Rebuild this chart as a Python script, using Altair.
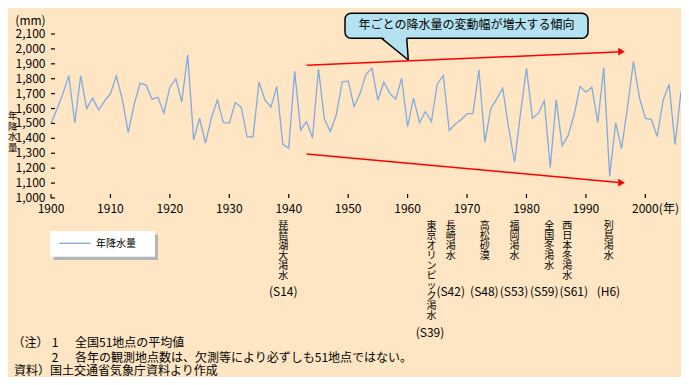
import altair as alt
import pandas as pd

# ---------------- data ----------------
years = list(range(1900, 2007))
rain = [
    1500, 1595, 1700, 1820, 1505, 1820, 1600, 1670, 1590, 1650,  # 1900-1909
    1700, 1820, 1660, 1440, 1630, 1770, 1757, 1663, 1676, 1570,  # 1910-1919
    1743, 1800, 1645, 1960, 1390, 1535, 1368, 1540, 1658, 1506,  # 1920-1929
    1502, 1640, 1609, 1410, 1410, 1778, 1658, 1609, 1748, 1360,  # 1930-1939
    1335, 1850, 1457, 1513, 1402, 1865, 1530, 1446, 1558, 1778,  # 1940-1949
    1785, 1614, 1700, 1830, 1870, 1656, 1778, 1702, 1662, 1803,  # 1950-1959
    1478, 1670, 1505, 1580, 1513, 1765, 1822, 1452, 1495, 1525,  # 1960-1969
    1565, 1568, 1860, 1375, 1600, 1665, 1736, 1470, 1240, 1570,  # 1970-1979
    1870, 1535, 1569, 1652, 1204, 1658, 1350, 1418, 1555, 1748,  # 1980-1989
    1710, 1743, 1505, 1875, 1145, 1505, 1332, 1610, 1915, 1675,  # 1990-1999
    1535, 1526, 1413, 1658, 1762, 1357, 1718,                    # 2000-2006
]
x_ticks = list(range(1900, 2001, 10))
y_ticks = list(range(1000, 2101, 100))

trend_years = [1943, 1996]
upper_trend = [1890, 1981]
lower_trend = [1295, 1103]

event_years = [1939, 1964, 1967, 1973, 1978, 1984, 1986, 1994]
event_names = ["琵琶湖大渇水", "東京オリンピック渇水", "長崎渇水", "高松砂漠",
               "福岡渇水", "全国冬渇水", "西日本冬渇水", "列島渇水"]
event_eras = ["(S14)", "(S39)", "(S42)", "(S48)", "(S53)", "(S59)", "(S61)", "(H6)"]

series_name = "年降水量"
callout_text = "年ごとの降水量の変動幅が増大する傾向"
notes = [
    ("（注）", "1", "全国51地点の平均値"),
    ("", "2", "各年の観測地点数は、欠測等により必ずしも51地点ではない。"),
]
source_text = "資料）国土交通省気象庁資料より作成"

# ---------------- style ----------------
FONT = "Noto Sans CJK JP"
BG = "#FEE6C4"
LINE_COLOR = "#82AADD"
BOX_FILL = "#B4E2F0"
W, H = 630, 164

xs = alt.Scale(domain=[1900, 2006], nice=False, zero=False)
ys = alt.Scale(domain=[1000, 2100], nice=False, zero=False)

one = pd.DataFrame({"a": [0]})

df = pd.DataFrame({"year": years, "rain": rain})

axis_style = dict(title=None, grid=False, ticks=False, labels=False,
                  domainColor="black", domainWidth=1.5)

main = alt.Chart(df).mark_line(color=LINE_COLOR, strokeWidth=1.3).encode(
    x=alt.X("year:Q", scale=xs, axis=alt.Axis(**axis_style)),
    y=alt.Y("rain:Q", scale=ys, axis=alt.Axis(**axis_style)),
)

xt_df = pd.DataFrame({"year": x_ticks})
yt_df = pd.DataFrame({"v": y_ticks})

xtick = alt.Chart(xt_df).mark_rule(color="black", strokeWidth=1.2).encode(
    x=alt.X("year:Q", scale=xs, axis=None), y=alt.value(H), y2=alt.value(H - 4))
ytick = alt.Chart(yt_df).mark_rule(color="black", strokeWidth=1.2).encode(
    y=alt.Y("v:Q", scale=ys, axis=None), x=alt.value(0), x2=alt.value(4))
xlab = alt.Chart(xt_df).mark_text(font=FONT, fontSize=12, color="black",
                                  align="center", baseline="middle").encode(
    x=alt.X("year:Q", scale=xs, axis=None), y=alt.value(H + 11),
    text=alt.Text("year:Q", format="d"))
ylab = alt.Chart(yt_df).mark_text(font=FONT, fontSize=12, color="black",
                                  align="right", baseline="middle").encode(
    y=alt.Y("v:Q", scale=ys, axis=None), x=alt.value(-5.5),
    text=alt.Text("v:Q", format=",d"))

# trend arrows
tr = pd.DataFrame({"year": trend_years * 2,
                   "val": upper_trend + lower_trend,
                   "which": ["upper"] * 2 + ["lower"] * 2})
trend_lines = alt.Chart(tr).mark_line(color="#FF0000", strokeWidth=1.5).encode(
    x=alt.X("year:Q", scale=xs, axis=None), y=alt.Y("val:Q", scale=ys, axis=None),
    detail="which:N")
heads = alt.Chart(tr[tr["year"] == trend_years[-1]]).mark_point(
    shape="triangle-right", filled=True, color="#FF0000", size=60, opacity=1, dx=2).encode(
    x=alt.X("year:Q", scale=xs, axis=None), y=alt.Y("val:Q", scale=ys, axis=None))

# callout
box = alt.Chart(one).mark_rect(fill=BOX_FILL, stroke="black", strokeWidth=1.5, cornerRadius=6).encode(
    x=alt.value(294), x2=alt.value(537), y=alt.value(-20.7), y2=alt.value(4.3))
tail_fill = alt.Chart(one).mark_point(
    shape="M -1 -0.95 L 0.88 -0.95 L 1 0.83 Z", filled=True, fill=BOX_FILL,
    strokeWidth=0, size=708, opacity=1).encode(x=alt.value(344), y=alt.value(15))
tail_l = alt.Chart(one).mark_rule(color="black", strokeWidth=1.5).encode(
    x=alt.value(330.7), x2=alt.value(357.3), y=alt.value(4.3), y2=alt.value(26))
tail_r = alt.Chart(one).mark_rule(color="black", strokeWidth=1.5).encode(
    x=alt.value(355.7), x2=alt.value(357.3), y=alt.value(4.3), y2=alt.value(26))
callout = alt.Chart(one).mark_text(text=callout_text, font=FONT, fontSize=12, color="black",
                                   align="center", baseline="middle").encode(
    x=alt.value(415.5), y=alt.value(-9))

# axis titles
mm = alt.Chart(one).mark_text(text="(mm)", font=FONT, fontSize=12, color="black",
                              align="center", baseline="middle").encode(
    x=alt.value(-20.5), y=alt.value(-12.8))
ytitle = alt.Chart(one).mark_text(text="\n".join(series_name), lineBreak="\n", lineHeight=10.6,
                                  font=FONT, fontSize=9.5, color="black",
                                  align="center", baseline="middle").encode(
    x=alt.value(-38.3), y=alt.value(82))
nen = alt.Chart(pd.DataFrame({"year": [x_ticks[-1]]})).mark_text(
    text="(年)", font=FONT, fontSize=12, color="black", align="left", baseline="middle", dx=13.5).encode(
    x=alt.X("year:Q", scale=xs, axis=None), y=alt.value(H + 11))

# legend
leg_shadow = alt.Chart(one).mark_rect(fill="#B4B4B4").encode(
    x=alt.value(2.5), x2=alt.value(107), y=alt.value(200.5), y2=alt.value(226))
leg_box = alt.Chart(one).mark_rect(fill="white").encode(
    x=alt.value(-1), x2=alt.value(104), y=alt.value(197), y2=alt.value(222.7))
leg_line = alt.Chart(one).mark_rule(color=LINE_COLOR, strokeWidth=1.3).encode(
    x=alt.value(8.3), x2=alt.value(39.7), y=alt.value(209.3))
leg_text = alt.Chart(one).mark_text(text=series_name, font=FONT, fontSize=10, color="black",
                                    align="left", baseline="middle").encode(
    x=alt.value(45), y=alt.value(209.5))

# event labels
name_dx = [0.5, 0, 1.5, 0, 0, -1, 5, -1]
era_dx = [0.5, -1.4, 1.5, -0.5, -0.6, -6, 11.6, -1.3]
event_layers = []
for yr, nm, era, ndx, edx in zip(event_years, event_names, event_eras, name_dx, era_dx):
    d = pd.DataFrame({"year": [yr]})
    event_layers.append(alt.Chart(d).mark_text(
        text="\n".join(nm), lineBreak="\n", lineHeight=10.1, font=FONT, fontSize=10,
        color="black", align="center", baseline="top", dx=ndx).encode(
        x=alt.X("year:Q", scale=xs, axis=None), y=alt.value(186.5)))
    era_y = 298.7 if len(nm) > 6 else 257.7
    event_layers.append(alt.Chart(d).mark_text(
        text=era, font=FONT, fontSize=12, color="black", align="center",
        baseline="middle", dx=edx).encode(
        x=alt.X("year:Q", scale=xs, axis=None), y=alt.value(era_y)))

# notes
note_layers = []
for i, (head, num, body) in enumerate(notes):
    yy = 309 + 15 * i
    if head:
        note_layers.append(alt.Chart(one).mark_text(text=head, font=FONT, fontSize=12, color="black",
                                                    align="left", baseline="middle").encode(
            x=alt.value(-38.5), y=alt.value(yy)))
    note_layers.append(alt.Chart(one).mark_text(text=num, font=FONT, fontSize=12, color="black",
                                                align="center", baseline="middle").encode(
        x=alt.value(4), y=alt.value(yy)))
    note_layers.append(alt.Chart(one).mark_text(text=body, font=FONT, fontSize=12, color="black",
                                                align="left", baseline="middle").encode(
        x=alt.value(24), y=alt.value(yy)))
note_layers.append(alt.Chart(one).mark_text(text=source_text, font=FONT, fontSize=12, color="black",
                                            align="left", baseline="middle").encode(
    x=alt.value(-37), y=alt.value(336.8)))

chart = alt.layer(
    main, xtick, ytick, xlab, ylab, trend_lines, heads,
    box, tail_fill, tail_l, tail_r, callout,
    mm, ytitle, nen,
    leg_shadow, leg_box, leg_line, leg_text,
    *event_layers, *note_layers,
).properties(
    width=W, height=H, autosize="none",
    padding={"left": 43, "top": 26, "right": 0, "bottom": 179},
    background=BG,
).configure_view(stroke=None)

chart.save("out.html", embed_options={"renderer": "svg", "actions": False})
